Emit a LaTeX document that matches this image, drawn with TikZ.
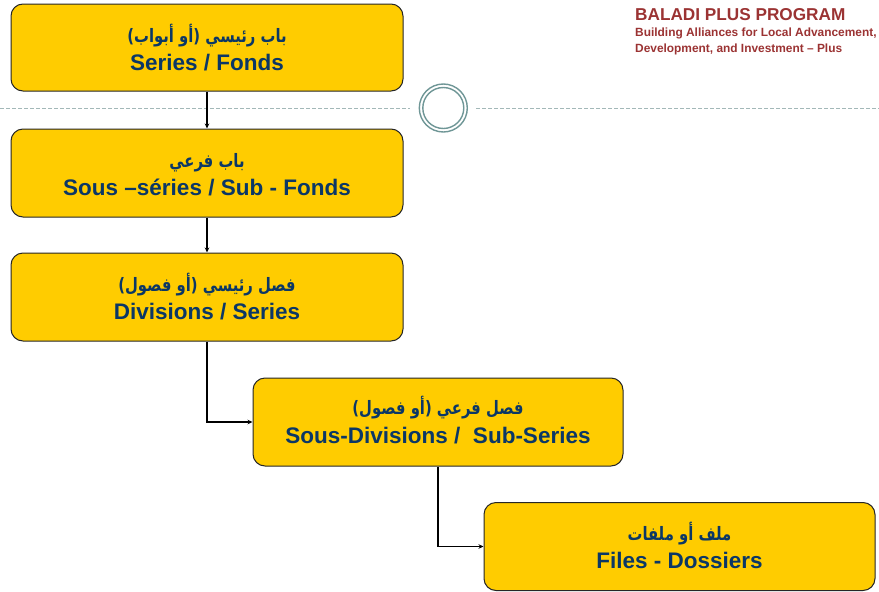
\documentclass[tikz,border=0pt]{standalone}
\usepackage{fontspec}
\setmainfont{Liberation Sans}
\newfontfamily\arabicfont[Script=Arabic,FakeStretch=0.8]{DejaVu Sans}
\TeXXeTstate=1
\usetikzlibrary{arrows.meta,calc}
\definecolor{boxyellow}{HTML}{FFCC00}
\definecolor{navy}{HTML}{0B3766}
\definecolor{brand}{HTML}{9B3333}
\definecolor{dashgray}{HTML}{A3B8B8}
\definecolor{ringcol}{HTML}{6F9696}
\begin{document}
\begin{tikzpicture}[x=1pt,y=-1pt,
  box/.style={draw=black!85, line width=1pt, fill=boxyellow, rounded corners=12pt, inner sep=0pt, minimum height=87pt},
  conn/.style={line width=1.8pt, -{Stealth[length=5pt,width=4.5pt]}},
  ar/.style={font=\arabicfont\bfseries\fontsize{18.5}{20}\selectfont, text=navy, anchor=base, inner sep=0pt},
  en/.style={font=\bfseries\fontsize{22.5}{24}\selectfont, text=navy, anchor=base, inner sep=0pt},
  hdr/.style={anchor=base west, inner sep=0pt, text=brand, font=\bfseries\fontsize{11.9}{13}\selectfont},
]
\useasboundingbox (0,0) rectangle (879,592);
% divider
\draw[dashgray, line width=1pt, dash pattern=on 4pt off 2pt] (0,108) -- (410,108);
\draw[dashgray, line width=1pt, dash pattern=on 4pt off 2pt] (476,108) -- (879,108);
\draw[ringcol, line width=1.4pt] (443.3,108) circle (24);
\draw[ringcol, line width=1.4pt] (443.3,108) circle (20.5);
% header
\node[hdr, font=\bfseries\fontsize{17.2}{19}\selectfont] (t1) at (635,20.5) {BALADI PLUS PROGRAM};
\node[hdr] (t2) at (635,36) {Building Alliances for Local Advancement,};
\node[hdr] (t3) at (635,52.5) {Development, and Investment -- Plus};
% boxes
\node[box, minimum width=392pt] (b1) at (207,47.5) {};
\node[box, minimum width=392pt, minimum height=88pt] (b2) at (207,173) {};
\node[box, minimum width=392pt, minimum height=88pt] (b3) at (207,297) {};
\node[box, minimum width=370pt, minimum height=88pt] (b4) at (438,422) {};
\node[box, minimum width=391pt, minimum height=88pt] (b5) at (679.5,546.5) {};
% texts
\node[ar] (a1) at ($(b1.center)+(0,-5.5)$) {\beginR باب رئيسي (أو أبواب)\endR};
\node[en] (e1) at ($(b1.center)+(0,22.5)$) {Series / Fonds};
\node[ar] (a2) at ($(b2.center)+(0,-6)$) {\beginR باب فرعي\endR};
\node[en] (e2) at ($(b2.center)+(0,22)$) {Sous --séries / Sub - Fonds};
\node[ar] (a3) at ($(b3.center)+(0,-6)$) {\beginR فصل رئيسي (أو فصول)\endR};
\node[en] (e3) at ($(b3.center)+(0,22)$) {Divisions / Series};
\node[ar] (a4) at ($(b4.center)+(0,-8)$) {\beginR فصل فرعي (أو فصول)\endR};
\node[en] (e4) at ($(b4.center)+(0,21)$) {Sous-Divisions /\ \ Sub-Series};
\node[ar] (a5) at ($(b5.center)+(0,-6)$) {\beginR ملف أو ملفات\endR};
\node[en] (e5) at ($(b5.center)+(0,22)$) {Files - Dossiers};
% connectors
\draw[conn] (b1.south) -- (b2.north);
\draw[conn] (b2.south) -- (b3.north);
\draw[conn] (b3.south) |- (b4.west);
\draw[conn] (b4.south) |- (b5.west);
\end{tikzpicture}
\end{document}
